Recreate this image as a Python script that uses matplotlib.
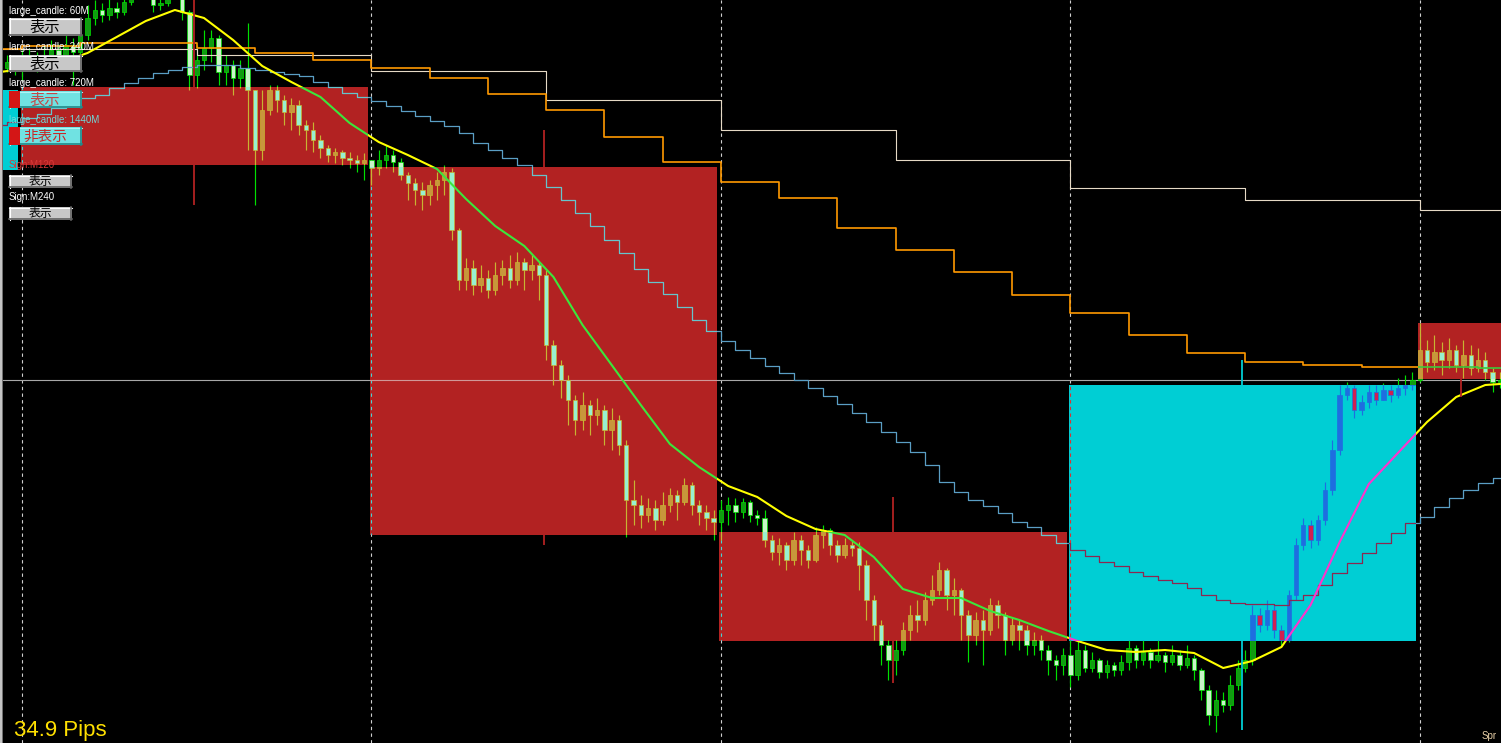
import numpy as np
import matplotlib
matplotlib.use("Agg")
import matplotlib.pyplot as plt
from matplotlib.patches import Rectangle

plt.rcParams['font.family'] = ['Liberation Sans', 'Noto Sans CJK JP', 'DejaVu Sans']

# ---------------- data (vertical values measured downward from chart top) ----------------
first_open = 72
close = [68, 62, 66,
         62, 58, 65, 55, 50, 56, 45, 52, 35, 18,
         10, 15, 8, 12, 2, -10, -15, -8, 5, 3,
         -10, -12, 12, 75, 60, 48, 38, 72, 65, 78,
         68, 90, 150, 110, 90, 100, 112, 105, 125, 130,
         140, 148, 155, 152, 158, 160, 163, 160,
         168, 160, 155, 162, 175, 183, 190, 195, 185, 180,
         172, 230, 280, 268, 285, 278, 290, 275, 268, 280,
         262, 270, 265, 275, 345, 365, 380, 400, 420, 405,
         415, 410, 430, 420, 445, 500, 505, 515, 508, 520,
         505, 495, 502, 485, 505, 512, 518, 522,
         510, 505, 512, 502, 515, 518, 540, 552, 545, 560,
         540, 550, 560, 535, 530, 545, 555, 545, 548, 565,
         600, 625, 645, 660, 650, 630, 615, 620, 600, 590,
         570, 595, 590, 615, 635, 620, 630, 605, 615, 640,
         625, 630, 645, 640, 650, 660, 665, 655,
         675, 650, 668, 660, 672, 665, 670, 662, 648, 660,
         652, 660, 655, 662, 655, 665, 658, 670, 690, 715,
         700, 705, 685, 668, 660, 615, 625, 610, 630, 640,
         595, 545, 525, 540, 520, 490, 450, 395, 388, 410,
         402, 392, 400, 390, 395, 388, 385, 380,
         350, 362, 352, 360, 350, 365, 355, 368, 360, 372, 382, 380]
high = [60, 55, 58,
        50, 48, 52, 45, 40, 44, 35, 38, 25, 5,
        0, 3, -2, 2, -5, -20, -25, -18, -12, -5,
        -18, -20, -15, 10, 45, 30, 30, 35, 55, 60,
        60, 23, 90, 90, 85, 85, 95, 98, 100, 120,
        122, 135, 145, 148, 150, 152, 155, 153,
        160, 150, 145, 150, 158, 172, 178, 182, 180, 172,
        165, 168, 228, 258, 260, 265, 270, 262, 260, 255,
        252, 258, 255, 262, 270, 340, 360, 375, 395, 392,
        400, 398, 405, 408, 415, 440, 480, 495, 498, 500,
        492, 488, 490, 478, 482, 500, 505, 510,
        500, 497, 498, 498, 500, 510, 510, 535, 538, 542,
        532, 535, 545, 527, 525, 528, 540, 538, 540, 542,
        560, 595, 620, 640, 640, 622, 605, 600, 592, 575,
        562, 568, 578, 588, 610, 612, 610, 598, 600, 612,
        618, 620, 625, 632, 635, 645, 655, 648,
        640, 640, 645, 652, 658, 660, 662, 655, 640, 645,
        640, 648, 640, 652, 645, 650, 645, 655, 668, 685,
        690, 692, 675, 660, 650, 605, 608, 600, 605, 625,
        590, 538, 518, 520, 515, 482, 440, 385, 382, 385,
        395, 385, 385, 383, 385, 378, 375, 372,
        323, 340, 335, 342, 338, 345, 340, 345, 348, 352, 368, 372]
low = [78, 72, 75,
       80, 70, 72, 68, 62, 64, 60, 85, 58, 40,
       25, 22, 20, 18, 15, 5, -5, -2, 12, 10,
       6, -5, 20, 90, 88, 70, 62, 85, 85, 95,
       88, 150, 205, 160, 115, 112, 125, 130, 135, 150,
       152, 158, 162, 163, 165, 168, 172, 180,
       185, 175, 168, 172, 180, 200, 205, 210, 205, 200,
       195, 240, 290, 290, 295, 292, 298, 295, 285, 288,
       285, 290, 280, 300, 360, 385, 398, 425, 435, 430,
       435, 425, 445, 450, 455, 537, 525, 528, 522, 530,
       525, 512, 520, 505, 515, 525, 530, 540,
       540, 525, 522, 518, 522, 525, 547, 560, 565, 570,
       565, 565, 568, 562, 548, 555, 562, 558, 556, 590,
       620, 640, 665, 680, 675, 655, 640, 632, 625, 605,
       595, 610, 615, 640, 662, 645, 665, 635, 628, 655,
       645, 650, 655, 655, 660, 675, 680, 675,
       687, 680, 672, 672, 678, 678, 676, 675, 670, 668,
       665, 668, 662, 672, 665, 670, 668, 680, 700, 725,
       732, 712, 710, 690, 672, 665, 632, 630, 638, 645,
       642, 600, 550, 548, 545, 525, 495, 455, 400, 418,
       415, 408, 405, 400, 402, 398, 395, 390,
       382, 372, 370, 375, 368, 372, 378, 375, 372, 380, 392, 388]

# moving average (sampled every 4 bars)
ma_idx = list(range(0, 205, 4)) + [206]
ma_val = [72, 68, 63, 53, 37, 21, 10, 18, 40, 66,
          82, 97, 123, 142, 155, 169, 199, 226, 246, 277,
          325, 365, 405, 444, 467, 486, 497, 516, 529, 535,
          557, 589, 598, 598, 611, 620, 631, 641, 650, 652,
          650, 653, 668, 661, 647, 605, 542, 484, 453, 422,
          397, 385, 384]

# higher-timeframe step lines
h12_start, h12_len = -21, 24
h12_levels = [49, 49, 55, 71, 100, 130, 160, 188, 200, 210]
h4_start, h4_len = -5, 8
h4_levels = [49, 46, 43, 43, 48, 53, 60, 68, 78, 94,
             110, 137, 162, 182, 198, 228, 250, 272, 295, 313,
             335, 353, 362, 365, 367, 367, 368]
h1_start, h1_len = -1, 2
h1_levels = [125, 122, 118, 114, 108, 104, 98, 95, 88, 83,
             78, 73, 70, 67, 65, 65, 65, 68, 70, 72,
             74, 76, 82, 87, 93, 97, 101, 106, 111, 116,
             121, 126, 133, 143, 150, 158, 165, 175, 187, 200,
             213, 226, 240, 253, 269, 282, 294, 307, 320, 331,
             341, 350, 358, 366, 373, 380, 388, 396, 404, 413,
             422, 432, 442, 452, 465, 482, 492, 500, 506, 513,
             522, 527, 535, 543, 550, 556, 562, 566, 572, 576,
             580, 583, 588, 595, 600, 603, 604, 604, 605, 600,
             595, 585, 573, 563, 553, 543, 533, 523, 517, 507,
             498, 490, 483, 478]

# large (daily) candles
day_start = [-45, 3, 51, 99, 147, 195]
day_bars = [48, 48, 48, 48, 48, 12]
box_open = [170, 87, 167, 532, 641, 323]
box_close = [90, 165, 535, 641, 385, 379]
box_high = [85, -10, 130, 497, 360, 323]
box_low = [175, 205, 545, 683, 730, 397]

# ---------------- figure ----------------
W, H = 1501, 743
fig = plt.figure(figsize=(W / 100, H / 100), dpi=100, facecolor='black')
ax = fig.add_axes([0, 0, 1, 1])
ax.set_facecolor('black')
PX = 7.28
ax.set_xlim(3 - 22 / PX, 3 + (W - 22) / PX)
ax.set_ylim(H, 0)
ax.axis('off')

n = min(len(close), len(high), len(low))
c = np.array(close[:n], float)
hi = np.array(high[:n], float)
lo = np.array(low[:n], float)
o = np.concatenate([[first_open], c[:-1]])
idx = np.arange(n)

normal = dict(sep='#d0d0d0', price='#a8a8a8', wick='#00e000', bull='#129a12', bear='#c8f5c8',
              h12='#e6dac6', h4='#ff9900', h1='#5a9ec4', ma='#ffff00')
in_red = dict(sep='#40d8d8', price='#d09898', wick='#c8b432', bull='#c8963c', bear='#98f0d0',
              h12='#e6dac6', h4='#3cc83c', h1='#66c4cc', ma='#3ce63c')
in_cyan = dict(sep='#e03030', price='#808080', wick='#1e6ee0', bull='#1e6ee0', bear='#d02050',
               h12='#e6dac6', h4='#ff9900', h1='#8c2850', ma='#ff33cc')


def steps(start, length, levels):
    x = start + length * np.arange(len(levels) + 1)
    y = list(levels) + [levels[-1]]
    return x, y


def draw_layer(pal, z, clip=None):
    arts = []
    for d in day_start[1:]:
        arts.append(ax.axvline(d, color=pal['sep'], lw=0.8, ls=(0, (3, 3)), zorder=z))
    arts.append(ax.axhline(c[-1], color=pal['price'], lw=0.8, zorder=z))
    arts.append(ax.vlines(idx, hi, lo, colors=pal['wick'], lw=0.85, zorder=z + 0.1))
    bull = c < o
    bottom = np.minimum(o, c)
    height = np.maximum(np.abs(c - o), 1.0)
    faces = [pal['bull'] if b else pal['bear'] for b in bull]
    bars = ax.bar(idx, height, bottom=bottom, width=0.6, color=faces,
                  edgecolor=pal['wick'], linewidth=0.5, zorder=z + 0.2)
    arts.extend(bars.patches)
    for (st, ln, lv), col, lw in [((h12_start, h12_len, h12_levels), pal['h12'], 0.8),
                                  ((h4_start, h4_len, h4_levels), pal['h4'], 1.2),
                                  ((h1_start, h1_len, h1_levels), pal['h1'], 0.9)]:
        xs, ys = steps(st, ln, lv)
        arts += ax.step(xs, ys, where='post', color=col, lw=lw, zorder=z + 0.3)
    arts += ax.plot(ma_idx, ma_val, color=pal['ma'], lw=1.5, zorder=z + 0.4)
    if clip is not None:
        for a in arts:
            a.set_clip_path(clip)


draw_layer(normal, 2)

for s, nb, bo, bc, bh, bl in zip(day_start, day_bars, box_open, box_close, box_high, box_low):
    x0 = s - 0.2
    x1 = s + nb - 0.5
    xc = (x0 + x1) / 2
    col = '#b22222' if bc > bo else '#00ced4'
    top, bot = min(bo, bc), max(bo, bc)
    ax.add_patch(Rectangle((x0, top), x1 - x0, bot - top, fc=col, ec='none', zorder=5))
    ax.vlines([xc, xc], [bh, bot], [top, bl], colors=col, lw=1.3, zorder=5)
    clip = Rectangle((x0, top), x1 - x0, bot - top, transform=ax.transData)
    draw_layer(in_red if bc > bo else in_cyan, 6, clip)

# ---------------- on-chart panel (pixel coordinates) ----------------
ov = fig.add_axes([0, 0, 1, 1])
ov.set_xlim(0, W)
ov.set_ylim(H, 0)
ov.axis('off')
ov.patch.set_alpha(0)

ov.add_patch(Rectangle((0, 0), 2, H, fc='#c4c4c4', ec='none'))
ov.add_patch(Rectangle((2, 0), 1, H, fc='#707070', ec='none'))


def button(x0, y0, x1, y1, label, fs, face='#c8c8c8', tcol='black', tab=False, edge=None):
    ov.add_patch(Rectangle((x0, y0), x1 - x0, y1 - y0, fc=face, ec='none', zorder=20))
    light = '#ffffff' if edge is None else '#b0f4f4'
    dark = '#606060' if edge is None else '#208888'
    ov.plot([x0, x1], [y0 + 0.5, y0 + 0.5], color=light, lw=0.8, zorder=21)
    ov.plot([x0 + 0.5, x0 + 0.5], [y0, y1], color=light, lw=0.8, zorder=21)
    ov.plot([x0, x1], [y1 - 0.7, y1 - 0.7], color=dark, lw=1.2, zorder=21)
    ov.plot([x1 - 0.7, x1 - 0.7], [y0, y1], color=dark, lw=1.2, zorder=21)
    if tab:
        ov.add_patch(Rectangle((x0, y0), 11, y1 - y0, fc='#d41616', ec='none', zorder=22))
    ov.text(45 if x1 > 75 else 40, (y0 + y1) / 2 + 0.5, label, fontsize=fs, color=tcol,
            ha='center', va='center', family=['Noto Sans CJK JP', 'DejaVu Sans'], zorder=23)


def label(y, s, col='white'):
    ov.text(9, y, s, fontsize=7, color=col, ha='left', va='center', zorder=23)


label(11, 'large_candle: 60M')
button(9, 18, 82, 36, '表示', 11)
label(47, 'large_candle: 240M')
button(9, 55, 82, 72, '表示', 11)
label(83, 'large_candle: 720M')
button(9, 91, 82, 108, '表示', 11, face='#70e2e2', tcol='#c44848', tab=True, edge=1)
label(120, 'large_candle: 1440M', '#70d8d8')
button(9, 127, 82, 145, '非表示', 10.5, face='#70e2e2', tcol='#c82828', tab=True, edge=1)
label(165, 'Sign:M120', '#d83838')
button(9, 175, 72, 188, '表示', 8.5)
label(197, 'Sign:M240')
button(9, 207, 72, 220, '表示', 8.5)

ov.text(14, 736, '34.9 Pips', fontsize=16, color='#ffe000', ha='left', va='baseline', zorder=23)
ov.text(1482, 739, 'Spr', fontsize=7, color='#e8d0a8', ha='left', va='baseline', zorder=23)

fig.savefig('out.png', dpi=100, facecolor='black')
